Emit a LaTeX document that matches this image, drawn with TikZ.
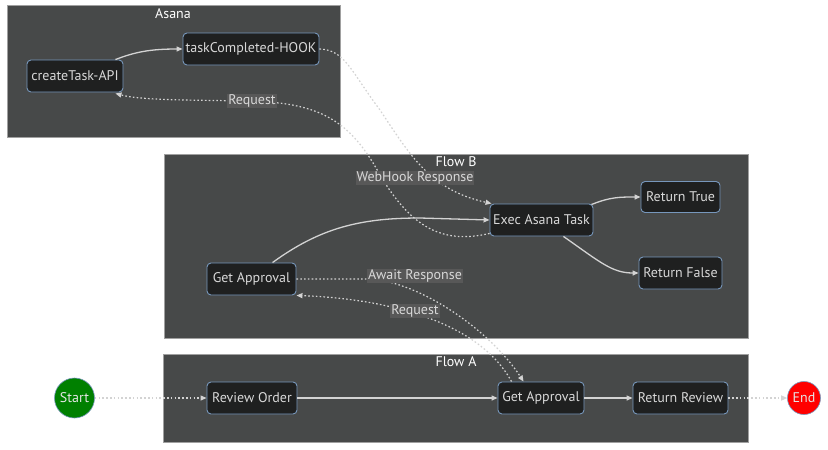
\documentclass[tikz,border=0pt]{standalone}
\usepackage{fontspec}
\setmainfont{PT Sans}
\usetikzlibrary{arrows.meta,calc}
\definecolor{clbg}{HTML}{474949}
\definecolor{clbd}{HTML}{A0A0A0}
\definecolor{nbg}{HTML}{1F2020}
\definecolor{nbd}{HTML}{7797BC}
\definecolor{ln}{HTML}{D3D3D3}
\definecolor{txt}{HTML}{D8D8D8}
\definecolor{lblbg}{HTML}{585858}
\begin{document}
\begin{tikzpicture}[x=1pt,y=-1pt,
 cluster/.style={fill=clbg,draw=clbd,line width=0.8pt},
 ctitle/.style={text=white,font=\fontsize{14}{16}\selectfont,inner sep=0pt},
 box/.style={rectangle,rounded corners=4pt,fill=nbg,draw=nbd,line width=0.9pt,text=txt,font=\fontsize{14}{16}\selectfont,minimum height=32pt,inner sep=0pt},
 circ/.style={circle,draw=nbd,line width=0.6pt,text=white!90!black,font=\fontsize{14}{16}\selectfont,inner sep=0pt},
 solidarrow/.style={draw=ln,line width=1.3pt,-{Triangle[length=6pt,width=5pt]}},
 dotarrow/.style={draw=ln,line width=1.2pt,dash pattern=on 1.6pt off 2.2pt,-{Triangle[length=6pt,width=5pt]}},
 elabel/.style={fill=lblbg,text=txt,font=\fontsize{14}{16}\selectfont,inner sep=1pt}]
\useasboundingbox[fill=white] (0,0) rectangle (828,450);
% clusters
\draw[cluster] (7,5) rectangle (340,137);
\draw[cluster] (164,154) rectangle (748,338);
\draw[cluster] (163,354) rectangle (748,442);
\node[ctitle] (tAsana) at (173,14) {Asana};
\node[ctitle] (tFlowB) at (456,162) {Flow B};
\node[ctitle] (tFlowA) at (456,362) {Flow A};
% nodes
\node[box,minimum width=96pt] (ct) at (75,76) {createTask-API};
\node[box,minimum width=136pt] (hook) at (251,49) {taskCompleted-HOOK};
\node[box,minimum width=103pt] (exec) at (541.5,220) {Exec Asana Task};
\node[box,minimum width=79pt,minimum height=31pt] (rt) at (680.5,197) {Return True};
\node[box,minimum width=83pt] (rf) at (680.5,273) {Return False};
\node[box,minimum width=89pt] (gaB) at (251.5,279) {Get Approval};
\node[box,minimum width=90pt] (revo) at (252,398) {Review Order};
\node[box,minimum width=86pt] (gaA) at (541,398) {Get Approval};
\node[box,minimum width=95pt] (rr) at (680.5,398) {Return Review};
\node[circ,fill=green!50!black,minimum size=40pt] (start) at (74.5,398) {Start};
\node[circ,fill=red,minimum size=33pt] (end) at (804,398) {End};
% edges
\draw[dotarrow] (start) -- (revo);
\draw[solidarrow] (revo) -- (gaA);
\draw[solidarrow] (gaA) -- (rr);
\draw[dotarrow] (rr) -- (end);
\draw[dotarrow] ($(gaA.north west)+(14,0)$) .. controls (475,315) and (370,298) .. (gaB.south east);
\draw[dotarrow] (gaB.east) -- (370,279) .. controls (420,282) and (490,330) .. ($(gaA.north west)+(26,0)$);
\draw[solidarrow] ($(gaB.north west)+(66,0)$) .. controls (320,228) and (360,218) .. (420,218) -- (exec.west);
\draw[solidarrow] ($(exec.north east)+(-2,1)$) .. controls (610,197) and (620,197) .. (rt.west);
\draw[solidarrow] ($(exec.south east)+(-30,0)$) .. controls (600,262) and (612,273) .. (rf.west);
\draw[dotarrow] ($(exec.south west)+(0,-3)$) .. controls (440,245) and (410,225) .. (380,175) .. controls (350,120) and (320,103) .. (250,101) .. controls (180,100) and (140,100) .. ($(ct.south east)+(-8,1)$);
\draw[solidarrow] ($(ct.north east)+(-8,0)$) .. controls (135,52) and (150,49) .. (hook.west);
\draw[dotarrow] (hook.east) .. controls (345,50) and (350,70) .. (380,110) .. controls (410,155) and (430,190) .. ($(exec.north west)+(2,0)$);
% labels
\node[elabel] (lReqA) at (252,101) {Request};
\node[elabel] (lWeb) at (415,178) {WebHook Response};
\node[elabel] (lAwait) at (415,276) {Await Response};
\node[elabel] (lReqB) at (415,311) {Request};
\end{tikzpicture}
\end{document}
